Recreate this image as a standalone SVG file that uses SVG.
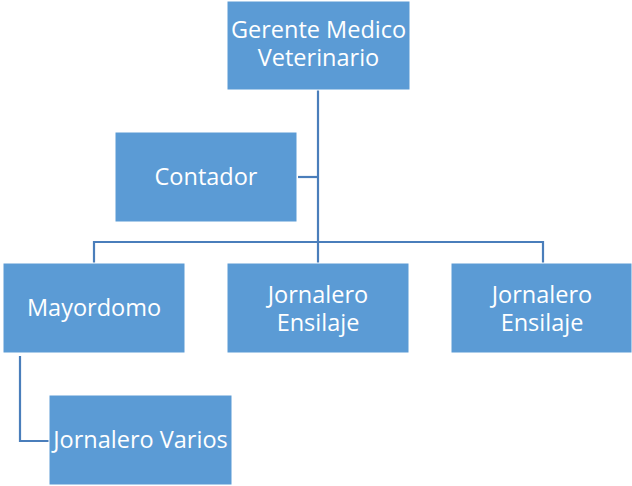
<svg xmlns="http://www.w3.org/2000/svg" width="632" height="486" viewBox="0 0 632 486">
<style>
.box{fill:#5B9BD5;stroke:#FFFFFF;stroke-width:1}
.lbl{font-family:"Open Sans","Liberation Sans",sans-serif;font-size:23.5px;fill:#FFFFFF;text-anchor:middle}
.con{fill:none;stroke:#4A7EBB;stroke-width:2.2}
</style>
<rect width="632" height="486" fill="#FFFFFF"/>
<g id="connectors">
<path class="con" d="M318 90 V242"/>
<path class="con" d="M298 177 H318"/>
<path class="con" d="M94 263 V242 H543 V263"/>
<path class="con" d="M318 242 V263"/>
<path class="con" d="M20 356 V441 H49"/>
</g>
<g id="gerente">
<rect class="box" x="227" y="1" width="183" height="89"/>
<text class="lbl" x="318.5" y="38">Gerente Medico</text>
<text class="lbl" x="318.5" y="66">Veterinario</text>
</g>
<g id="contador">
<rect class="box" x="115" y="132" width="182" height="90"/>
<text class="lbl" x="206" y="185">Contador</text>
</g>
<g id="mayordomo">
<rect class="box" x="3" y="263" width="182" height="90"/>
<text class="lbl" x="94" y="316">Mayordomo</text>
</g>
<g id="jornalero1">
<rect class="box" x="227" y="263" width="182" height="90"/>
<text class="lbl" x="318" y="303">Jornalero</text>
<text class="lbl" x="318" y="331">Ensilaje</text>
</g>
<g id="jornalero2">
<rect class="box" x="451" y="263" width="181" height="90"/>
<text class="lbl" x="542" y="303">Jornalero</text>
<text class="lbl" x="542" y="331">Ensilaje</text>
</g>
<g id="varios">
<rect class="box" x="49" y="395" width="183" height="90"/>
<text class="lbl" x="140.5" y="448">Jornalero Varios</text>
</g>
</svg>
